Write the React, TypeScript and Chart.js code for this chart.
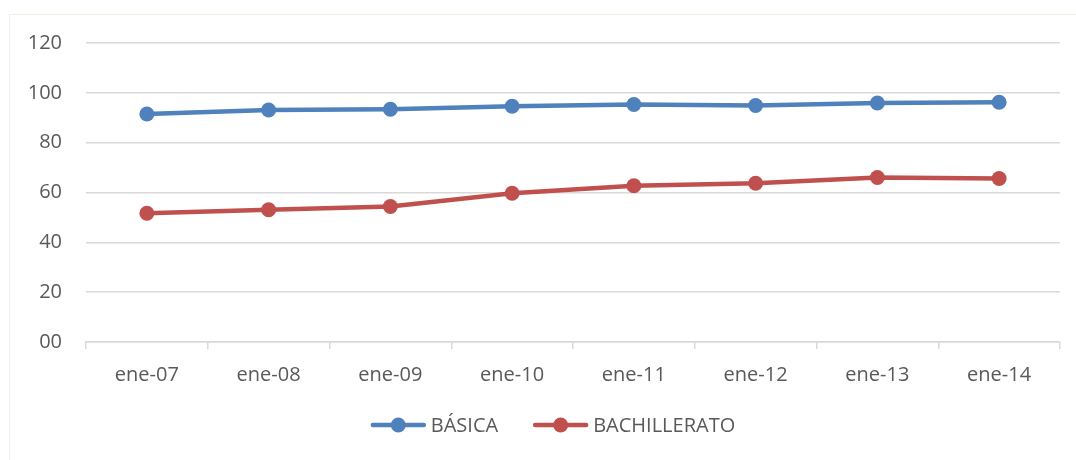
import React, { useEffect, useRef } from "react";
import { Chart, registerables } from "chart.js";

Chart.register(...registerables);

const categories = ["ene-07", "ene-08", "ene-09", "ene-10", "ene-11", "ene-12", "ene-13", "ene-14"];
const basica = [91.5, 93.1, 93.4, 94.6, 95.3, 94.9, 95.9, 96.2];
const bachillerato = [51.7, 53.1, 54.4, 59.7, 62.7, 63.7, 66.0, 65.6];
const seriesNames = ["BÁSICA", "BACHILLERATO"];
const seriesColors = ["#4F81BD", "#C0504D"];

const FONT = "'Open Sans', 'Liberation Sans', sans-serif";
const TEXT = "#595959";

// Draws the legend below the axis: a line sample with a marker, then the series name.
const lineLegend = {
  id: "lineLegend",
  afterDraw(chart: any) {
    const ctx = chart.ctx;
    const y = 425;
    const sample = 55;
    const gapText = 5;
    const gapItem = 35;
    ctx.save();
    ctx.font = `20px ${FONT}`;
    ctx.textBaseline = "middle";
    const items = chart.data.datasets.map((ds: any) => ({
      label: ds.label,
      color: ds.borderColor,
      w: sample + gapText + ctx.measureText(ds.label).width,
    }));
    const total = items.reduce((s: number, it: any) => s + it.w, 0) + gapItem * (items.length - 1);
    let x = chart.width / 2 + 15 - total / 2;
    for (const it of items) {
      ctx.strokeStyle = it.color;
      ctx.lineWidth = 4.5;
      ctx.lineCap = "round";
      ctx.beginPath();
      ctx.moveTo(x + 2, y);
      ctx.lineTo(x + sample - 2, y);
      ctx.stroke();
      ctx.fillStyle = it.color;
      ctx.beginPath();
      ctx.arc(x + sample / 2, y, 7.5, 0, Math.PI * 2);
      ctx.fill();
      ctx.fillStyle = TEXT;
      ctx.textAlign = "left";
      ctx.fillText(it.label, x + sample + gapText, y + 1);
      x += it.w + gapItem;
    }
    ctx.restore();
  },
};

export default function App() {
  const canvasRef = useRef<HTMLCanvasElement | null>(null);

  useEffect(() => {
    if (!canvasRef.current) return;
    const chart = new Chart(canvasRef.current, {
      type: "line",
      data: {
        labels: categories,
        datasets: [basica, bachillerato].map((values, i) => ({
          label: seriesNames[i],
          data: values,
          borderColor: seriesColors[i],
          backgroundColor: seriesColors[i],
          borderWidth: 4.5,
          pointRadius: 7.5,
          pointHoverRadius: 7.5,
          pointBorderWidth: 0,
          tension: 0,
        })),
      },
      options: {
        responsive: false,
        animation: false,
        layout: { padding: { left: 10, right: 16, top: 43, bottom: 58 } },
        plugins: {
          legend: { display: false },
          tooltip: { enabled: false },
        },
        scales: {
          x: {
            offset: true,
            grid: {
              offset: true,
              drawOnChartArea: false,
              drawTicks: true,
              tickLength: 7,
              color: "#D9D9D9",
              lineWidth: 1.5,
            },
            border: { display: true, color: "#D9D9D9", width: 1.5 },
            ticks: {
              color: TEXT,
              font: { family: FONT, size: 20 },
              padding: 14,
              maxRotation: 0,
            },
            afterFit(scale: any) {
              scale.height = 60;
            },
          },
          y: {
            min: 0,
            max: 120,
            ticks: {
              stepSize: 20,
              color: TEXT,
              font: { family: FONT, size: 20 },
              padding: 24,
              callback: (v: any) => String(v).padStart(2, "0"),
            },
            grid: { color: "#D9D9D9", lineWidth: 1.5, drawTicks: false },
            border: { display: false },
            afterFit(scale: any) {
              scale.width = 76;
            },
          },
        },
      },
      plugins: [lineLegend],
    });
    return () => chart.destroy();
  }, []);

  return (
    <div style={{ position: "fixed", left: 0, top: 0, width: 1076, height: 460, background: "#fff", overflow: "hidden" }}>
      <div
        style={{
          position: "absolute",
          left: 9,
          top: 14,
          width: 1080,
          height: 460,
          border: "1.5px solid #F2EEE3",
          boxSizing: "border-box",
        }}
      />
      <canvas ref={canvasRef} width={1076} height={460} style={{ position: "absolute", left: 0, top: 0 }} />
    </div>
  );
}
